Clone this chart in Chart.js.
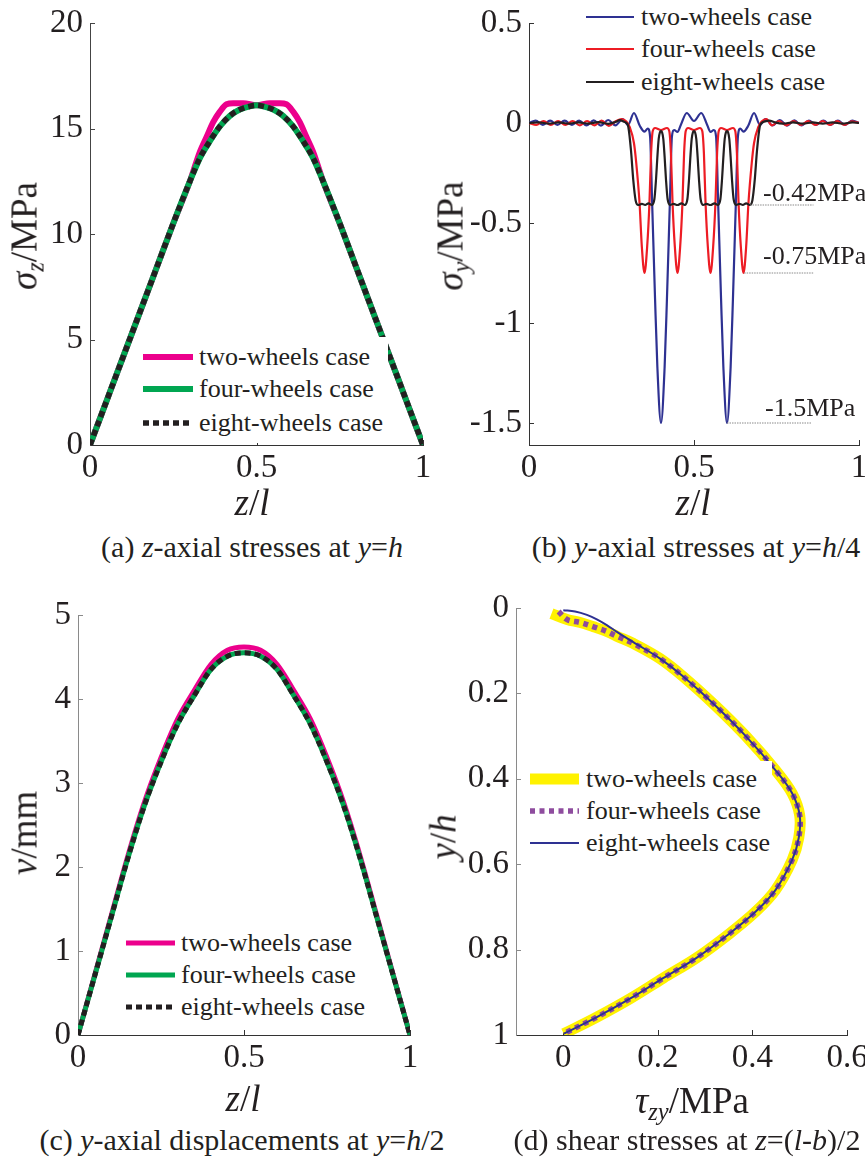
<!DOCTYPE html>
<html>
<head>
<meta charset="utf-8">
<script src="https://cdn.jsdelivr.net/npm/chart.js@4.4.0/dist/chart.umd.min.js"></script>
<style>
  body { margin: 0; background: #fff; }
  #page { position: relative; width: 865px; height: 1159px; overflow: hidden;
          font-family: 'Liberation Serif', 'Times New Roman', serif; color: #231f20; }
  canvas { position: absolute; }
  .t { position: absolute; white-space: nowrap; line-height: 1; transform: translate(-50%, -50%); }
  .rot { transform: translate(-50%, -50%) rotate(-90deg); }
  .cap { font-size: 30px; }
  .ax { font-size: 37px; }
  .sb { font-size: 0.66em; position: relative; top: 0.3em; }
  .note { position: absolute; font-size: 26px; line-height: 1; white-space: nowrap; }
  .legend { position: absolute; background: #fff; }
  .legend span { position: absolute; font-size: 26px; line-height: 1; white-space: nowrap; transform: translateY(-50%); }
</style>
</head>
<body>
<div id="page"></div>
<script>
// (a) z-axial stresses at y=h
const zA = [0, 0.05, 0.1, 0.15, 0.2, 0.25, 0.3, 0.33, 0.36, 0.39, 0.42, 0.45, 0.48, 0.5, 0.52, 0.55, 0.58, 0.61, 0.64, 0.67, 0.7, 0.75, 0.8, 0.85, 0.9, 0.95, 1];
const fourA = [0, 2.1, 4.2, 6.3, 8.4, 10.5, 12.5, 13.6, 14.4, 15.1, 15.6, 15.9, 16.05, 16.1, 16.05, 15.9, 15.6, 15.1, 14.4, 13.6, 12.5, 10.5, 8.4, 6.3, 4.2, 2.1, 0];
const eightA = [0, 2.1, 4.2, 6.3, 8.4, 10.5, 12.5, 13.6, 14.4, 15.1, 15.6, 15.9, 16.05, 16.1, 16.05, 15.9, 15.6, 15.1, 14.4, 13.6, 12.5, 10.5, 8.4, 6.3, 4.2, 2.1, 0];
const zTwoA = [0, 0.05, 0.1, 0.15, 0.2, 0.25, 0.3, 0.33, 0.35, 0.37, 0.39, 0.41, 0.43, 0.46, 0.5, 0.54, 0.57, 0.59, 0.61, 0.63, 0.65, 0.67, 0.7, 0.75, 0.8, 0.85, 0.9, 0.95, 1];
const twoA = [0, 2.1, 4.2, 6.3, 8.4, 10.5, 12.5, 13.9, 14.6, 15.3, 15.8, 16.15, 16.2, 16.2, 16.1, 16.2, 16.2, 16.15, 15.8, 15.3, 14.6, 13.9, 12.5, 10.5, 8.4, 6.3, 4.2, 2.1, 0];
const xTicksA = [0, 0.5, 1];
const yTicksA = [0, 5, 10, 15, 20];

// (b) y-axial stresses at y=h/4
const zTwoB = [0, 0.02, 0.042, 0.064, 0.086, 0.108, 0.13, 0.152, 0.174, 0.196, 0.218, 0.24, 0.262, 0.284, 0.3, 0.318, 0.336, 0.35, 0.36, 0.367, 0.373, 0.382, 0.389, 0.4, 0.411, 0.418, 0.427, 0.433, 0.44, 0.45, 0.46, 0.478, 0.5, 0.522, 0.54, 0.55, 0.56, 0.567, 0.573, 0.582, 0.589, 0.6, 0.611, 0.618, 0.627, 0.633, 0.64, 0.65, 0.664, 0.682, 0.7, 0.716, 0.738, 0.76, 0.782, 0.804, 0.826, 0.848, 0.87, 0.892, 0.914, 0.936, 0.958, 0.98, 1];
const twoB = [0, 0.012, -0.01, 0.012, -0.01, 0.012, -0.01, 0.012, -0.012, 0.013, -0.013, 0.015, -0.012, 0.02, -0.01, 0.05, -0.015, -0.043, -0.028, -0.07, -0.39, -0.88, -1.22, -1.5, -1.22, -0.88, -0.39, -0.07, -0.035, -0.045, -0.01, 0.05, 0.01, 0.05, -0.01, -0.045, -0.035, -0.07, -0.39, -0.88, -1.22, -1.5, -1.22, -0.88, -0.39, -0.07, -0.028, -0.043, -0.015, 0.05, -0.01, 0.02, -0.012, 0.015, -0.013, 0.013, -0.012, 0.012, -0.01, 0.012, -0.01, 0.012, -0.01, 0.012, 0];
const zFourB = [0, 0.022, 0.044, 0.066, 0.088, 0.11, 0.132, 0.154, 0.176, 0.198, 0.22, 0.242, 0.264, 0.28, 0.295, 0.305, 0.318, 0.325, 0.335, 0.342, 0.35, 0.358, 0.365, 0.37, 0.375, 0.382, 0.4, 0.418, 0.425, 0.43, 0.435, 0.442, 0.45, 0.458, 0.465, 0.47, 0.475, 0.482, 0.5, 0.518, 0.525, 0.53, 0.535, 0.542, 0.55, 0.558, 0.565, 0.57, 0.575, 0.582, 0.6, 0.618, 0.625, 0.63, 0.635, 0.642, 0.65, 0.658, 0.665, 0.675, 0.682, 0.695, 0.705, 0.72, 0.736, 0.758, 0.78, 0.802, 0.824, 0.846, 0.868, 0.89, 0.912, 0.934, 0.956, 0.978, 1];
const fourB = [0, -0.01, 0.01, -0.01, 0.01, -0.01, 0.01, -0.012, 0.01, -0.012, 0.012, -0.014, 0.01, 0.02, 0.008, -0.02, -0.1, -0.2, -0.4, -0.62, -0.75, -0.62, -0.4, -0.15, -0.04, -0.025, -0.035, -0.025, -0.04, -0.15, -0.4, -0.62, -0.75, -0.62, -0.4, -0.15, -0.04, -0.025, -0.035, -0.025, -0.04, -0.15, -0.4, -0.62, -0.75, -0.62, -0.4, -0.15, -0.04, -0.025, -0.035, -0.025, -0.04, -0.15, -0.4, -0.62, -0.75, -0.62, -0.4, -0.2, -0.1, -0.02, 0.008, 0.02, -0.012, 0.01, -0.012, 0.01, -0.01, 0.01, -0.01, 0.01, -0.01, 0.01, -0.01, 0.008, 0];
const zEightB = [0, 0.03, 0.06, 0.09, 0.12, 0.15, 0.18, 0.21, 0.24, 0.262, 0.275, 0.288, 0.295, 0.301, 0.309, 0.316, 0.323, 0.331, 0.342, 0.352, 0.362, 0.372, 0.38, 0.385, 0.389, 0.393, 0.397, 0.4, 0.403, 0.407, 0.411, 0.415, 0.42, 0.428, 0.438, 0.45, 0.462, 0.472, 0.48, 0.485, 0.489, 0.493, 0.497, 0.5, 0.503, 0.507, 0.511, 0.515, 0.52, 0.528, 0.538, 0.55, 0.562, 0.572, 0.58, 0.585, 0.589, 0.593, 0.597, 0.6, 0.603, 0.607, 0.611, 0.615, 0.62, 0.628, 0.638, 0.648, 0.658, 0.669, 0.677, 0.684, 0.691, 0.699, 0.705, 0.715, 0.728, 0.745, 0.77, 0.8, 0.83, 0.86, 0.89, 0.92, 0.95, 0.98, 1];
const eightB = [0, 0.003, -0.003, 0.003, -0.003, 0.003, -0.003, 0.004, -0.004, 0.005, 0.014, 0.006, 0, -0.02, -0.136, -0.286, -0.386, -0.41, -0.404, -0.41, -0.402, -0.41, -0.38, -0.28, -0.17, -0.08, -0.045, -0.04, -0.045, -0.08, -0.17, -0.28, -0.38, -0.41, -0.404, -0.41, -0.402, -0.41, -0.38, -0.28, -0.17, -0.08, -0.045, -0.04, -0.045, -0.08, -0.17, -0.28, -0.38, -0.41, -0.404, -0.41, -0.402, -0.41, -0.38, -0.28, -0.17, -0.08, -0.045, -0.04, -0.045, -0.08, -0.17, -0.28, -0.38, -0.41, -0.404, -0.41, -0.402, -0.41, -0.386, -0.286, -0.136, -0.02, 0, 0.008, 0.012, 0.003, -0.003, 0.003, -0.003, 0.003, -0.003, 0.003, -0.003, 0.003, 0];
// peak marker lines: [z start, z end, value]
const marks = [[0.67, 0.862, -0.41], [0.652, 0.862, -0.75], [0.6, 0.857, -1.5]];
const markLabels = ['-0.42MPa', '-0.75MPa', '-1.5MPa'];
const xTicksB = [0, 0.5, 1];
const yTicksB = [0.5, 0, -0.5, -1, -1.5];

// (c) y-axial displacements at y=h/2
const zC = [0, 0.05, 0.1, 0.15, 0.2, 0.25, 0.3, 0.35, 0.4, 0.45, 0.5, 0.55, 0.6, 0.65, 0.7, 0.75, 0.8, 0.85, 0.9, 0.95, 1];
const twoC = [0, 0.71, 1.42, 2.13, 2.77, 3.3, 3.76, 4.1, 4.41, 4.58, 4.62, 4.58, 4.41, 4.1, 3.76, 3.3, 2.77, 2.13, 1.42, 0.71, 0];
const fourC = [0, 0.7, 1.4, 2.1, 2.73, 3.25, 3.7, 4.04, 4.35, 4.51, 4.55, 4.51, 4.35, 4.04, 3.7, 3.25, 2.73, 2.1, 1.4, 0.7, 0];
const eightC = [0, 0.7, 1.4, 2.1, 2.73, 3.25, 3.7, 4.04, 4.35, 4.51, 4.55, 4.51, 4.35, 4.04, 3.7, 3.25, 2.73, 2.1, 1.4, 0.7, 0];
const xTicksC = [0, 0.5, 1];
const yTicksC = [0, 1, 2, 3, 4, 5];

// (d) shear stresses at z=(l-b)/2
const tauTwoD = [-0.025, 0.008, 0.036, 0.064, 0.092, 0.113, 0.148, 0.204, 0.253, 0.323, 0.386, 0.449, 0.484, 0.5, 0.498, 0.484, 0.449, 0.407, 0.351, 0.281, 0.211, 0.141, 0.071, 0.001];
const yhTwoD = [0.013, 0.027, 0.034, 0.044, 0.055, 0.066, 0.083, 0.118, 0.16, 0.23, 0.3, 0.38, 0.434, 0.486, 0.538, 0.59, 0.66, 0.711, 0.763, 0.82, 0.867, 0.915, 0.958, 0.997];
const tauFourD = [-0.01, 0.008, 0.036, 0.064, 0.092, 0.113, 0.148, 0.204, 0.253, 0.323, 0.386, 0.449, 0.484, 0.5, 0.498, 0.484, 0.449, 0.407, 0.351, 0.281, 0.211, 0.141, 0.071, 0.001];
const yhFourD = [0.008, 0.027, 0.034, 0.044, 0.055, 0.066, 0.083, 0.118, 0.16, 0.23, 0.3, 0.38, 0.434, 0.486, 0.538, 0.59, 0.66, 0.711, 0.763, 0.82, 0.867, 0.915, 0.958, 0.997];
const tauEightD = [0, 0.025, 0.05, 0.072, 0.092, 0.115, 0.148, 0.204, 0.253, 0.323, 0.386, 0.449, 0.484, 0.5, 0.498, 0.484, 0.449, 0.407, 0.351, 0.281, 0.211, 0.141, 0.071, 0.001];
const yhEightD = [0.005, 0.008, 0.016, 0.027, 0.04, 0.057, 0.08, 0.118, 0.16, 0.23, 0.3, 0.38, 0.434, 0.486, 0.538, 0.59, 0.66, 0.711, 0.763, 0.82, 0.867, 0.915, 0.958, 0.997];
const xTicksD = [0, 0.2, 0.4, 0.6];
const yTicksD = [0, 0.2, 0.4, 0.6, 0.8, 1];

const names = ['two-wheels case', 'four-wheels case', 'eight-wheels case'];

Chart.defaults.font.family = "'Liberation Serif', 'Times New Roman', serif";
Chart.defaults.color = '#231f20';

const page = document.getElementById('page');

function pts(xs, ys) {
    return xs.map((x, i) => ({ x: x, y: ys[i] }));
}

function line(xs, ys, st, order, smooth) {
    return {
        data: pts(xs, ys),
        borderColor: st.color,
        borderWidth: st.width,
        borderDash: st.dash || [],
        borderCapStyle: 'butt',
        pointRadius: 0,
        fill: false,
        order: order,
        cubicInterpolationMode: smooth === 'bezier' ? 'default' : 'monotone',
        tension: smooth === 'bezier' ? 0.35 : 0
    };
}

// small inward tick marks, the way the original plot has them
const innerTicks = {
    id: 'innerTicks',
    beforeDatasetsDraw(chart) {
        const { ctx, chartArea: a } = chart;
        const xs = chart.scales.x, ys = chart.scales.y;
        ctx.save();
        ctx.lineWidth = 1;
        ctx.strokeStyle = xs.options.border.color;
        xs.ticks.forEach(t => {
            const p = Math.round(xs.getPixelForValue(t.value)) + 0.5;
            if (Math.abs(p - a.left) < 2) return;
            ctx.beginPath(); ctx.moveTo(p, a.bottom); ctx.lineTo(p, a.bottom - 5); ctx.stroke();
        });
        ctx.strokeStyle = ys.options.border.color;
        ys.ticks.forEach(t => {
            const p = Math.round(ys.getPixelForValue(t.value)) + 0.5;
            if (Math.abs(p - a.bottom) < 2) return;
            ctx.beginPath(); ctx.moveTo(a.left, p); ctx.lineTo(a.left + 5, p); ctx.stroke();
        });
        ctx.restore();
    }
};

function makeChart(box, area, cfg) {
    const cv = document.createElement('canvas');
    cv.width = box.w; cv.height = box.h;
    cv.style.left = box.x + 'px'; cv.style.top = box.y + 'px';
    page.appendChild(cv);
    const tickFont = { size: 33 };
    return new Chart(cv.getContext('2d'), {
        type: 'line',
        data: { datasets: cfg.datasets },
        options: {
            responsive: false,
            animation: false,
            layout: { autoPadding: false, padding: { left: 0, top: area.t - box.y, right: box.x + box.w - area.r, bottom: 0 } },
            plugins: { legend: { display: false }, tooltip: { enabled: false } },
            scales: {
                x: {
                    type: 'linear', min: cfg.xMin, max: cfg.xMax,
                    afterBuildTicks: s => { s.ticks = cfg.xTicks.map(v => ({ value: v })); },
                    afterFit: s => { s.height = box.y + box.h - area.b; s.paddingLeft = 0; s.paddingRight = 0; },
                    grid: { display: false, drawTicks: false },
                    border: { color: cfg.xBorder || '#333', width: 1 },
                    ticks: { font: tickFont, padding: 4, maxRotation: 0, autoSkip: false, color: '#231f20', callback: v => String(v) }
                },
                y: {
                    type: 'linear', min: cfg.yMin, max: cfg.yMax, reverse: !!cfg.reverse,
                    afterBuildTicks: s => { s.ticks = cfg.yTicks.map(v => ({ value: v })); },
                    afterFit: s => { s.width = area.l - box.x; s.paddingTop = 0; s.paddingBottom = 0; },
                    grid: { display: false, drawTicks: false },
                    border: { color: cfg.yBorder || '#333', width: 1 },
                    ticks: { font: tickFont, padding: 7, autoSkip: false, color: '#231f20', callback: v => String(v) }
                }
            }
        },
        plugins: [innerTicks]
    });
}

function addText(html, x, y, cls) {
    const d = document.createElement('div');
    d.className = 't ' + cls;
    d.style.left = x + 'px'; d.style.top = y + 'px';
    d.innerHTML = html;
    page.appendChild(d);
}

function addLegend(box, s0, s1, tx, rowsY, styles) {
    const w = box.r - box.l, h = box.b - box.t;
    const d = document.createElement('div');
    d.className = 'legend';
    d.style.left = box.l + 'px'; d.style.top = box.t + 'px';
    d.style.width = w + 'px'; d.style.height = h + 'px';
    let svg = '<svg width="' + w + '" height="' + h + '" style="position:absolute;left:0;top:0">';
    styles.forEach((st, i) => {
        const y = rowsY[i] - box.t;
        svg += '<line x1="' + (s0 - box.l) + '" y1="' + y + '" x2="' + (s1 - box.l) + '" y2="' + y +
            '" stroke="' + st.color + '" stroke-width="' + st.width + '"' +
            (st.dash ? ' stroke-dasharray="' + st.dash.join(' ') + '"' : '') + '/>';
    });
    svg += '</svg>';
    d.innerHTML = svg + names.map((n, i) =>
        '<span style="left:' + (tx - box.l) + 'px;top:' + (rowsY[i] - box.t) + 'px">' + n + '</span>').join('');
    page.appendChild(d);
}

// ---------- (a) ----------
const stA = [
    { color: '#ec008c', width: 6 },
    { color: '#00a651', width: 6 },
    { color: '#231f20', width: 5.5, dash: [6, 4] }
];
makeChart({ x: 0, y: 0, w: 432, h: 495 }, { l: 90, t: 23, r: 423, b: 445 }, {
    xMin: 0, xMax: 1, yMin: 0, yMax: 20, xTicks: xTicksA, yTicks: yTicksA, yBorder: '#444',
    datasets: [
        line(zTwoA, twoA, stA[0], 3),
        line(zA, fourA, stA[1], 2),
        line(zA, eightA, stA[2], 1)
    ]
});
addLegend({ l: 138, t: 337, r: 388, b: 443 }, 143, 193, 199, [357, 389, 423], stA);
addText('<i>σ<span class="sb">z</span></i>/MPa', 24, 236, 'ax rot');
addText('<i>z</i>/<i>l</i>', 252, 502, 'ax');
addText('(a) <i>z</i>-axial stresses at <i>y</i>=<i>h</i>', 252, 547, 'cap');

// ---------- (b) ----------
const stB = [
    { color: '#2e3192', width: 2.2 },
    { color: '#ed1c24', width: 2.2 },
    { color: '#231f20', width: 2.2 }
];
const markDs = marks.map(m => ({
    data: [{ x: m[0], y: m[2] }, { x: m[1], y: m[2] }],
    borderColor: '#8a8a8a', borderWidth: 1, borderDash: [1.5, 1], pointRadius: 0, order: 0
}));
makeChart({ x: 440, y: 0, w: 425, h: 495 }, { l: 529, t: 23, r: 859, b: 445 }, {
    xMin: 0, xMax: 1, yMin: -1.61, yMax: 0.5, xTicks: xTicksB, yTicks: yTicksB,
    datasets: [
        line(zTwoB, twoB, stB[0], 3),
        line(zFourB, fourB, stB[1], 2),
        line(zEightB, eightB, stB[2], 1)
    ].concat(markDs)
});
addLegend({ l: 580, t: 0, r: 830, b: 98 }, 586, 634, 641, [17, 49, 82], stB);
[[763, 180], [763, 243], [765, 395]].forEach((p, i) => {
    const d = document.createElement('div');
    d.className = 'note';
    d.style.left = p[0] + 'px'; d.style.top = p[1] + 'px';
    d.textContent = markLabels[i];
    page.appendChild(d);
});
addText('<i>σ<span class="sb">y</span></i>/MPa', 450, 236, 'ax rot');
addText('<i>z</i>/<i>l</i>', 693, 502, 'ax');
addText('(b) <i>y</i>-axial stresses at <i>y</i>=<i>h</i>/4', 696, 547, 'cap');

// ---------- (c) ----------
const stC = [
    { color: '#ec008c', width: 5 },
    { color: '#00a651', width: 5 },
    { color: '#231f20', width: 5, dash: [6, 4] }
];
makeChart({ x: 0, y: 590, w: 432, h: 495 }, { l: 78, t: 615, r: 410, b: 1035 }, {
    xMin: 0, xMax: 1, yMin: 0, yMax: 5, xTicks: xTicksC, yTicks: yTicksC, yBorder: '#8a8a8a',
    datasets: [
        line(zC, twoC, stC[0], 3),
        line(zC, fourC, stC[1], 2),
        line(zC, eightC, stC[2], 1)
    ]
});
addLegend({ l: 120, t: 926, r: 368, b: 1024 }, 126, 175, 181, [943, 975, 1007], stC);
addText('<i>v</i>/mm', 24, 833, 'ax rot');
addText('<i>z</i>/<i>l</i>', 243, 1098, 'ax');
addText('(c) <i>y</i>-axial displacements at <i>y</i>=<i>h</i>/2', 242, 1140, 'cap');

// ---------- (d) ----------
const stD = [
    { color: '#fff200', width: 11 },
    { color: '#8e4c9e', width: 5.5, dash: [5, 4.5] },
    { color: '#2e3192', width: 2 }
];
makeChart({ x: 440, y: 590, w: 425, h: 495 }, { l: 516, t: 608, r: 847, b: 1035 }, {
    xMin: -0.1, xMax: 0.6, yMin: 0, yMax: 1, reverse: true, xTicks: xTicksD, yTicks: yTicksD, yBorder: '#8a8a8a',
    datasets: [
        line(tauTwoD, yhTwoD, stD[0], 3, 'bezier'),
        line(tauFourD, yhFourD, stD[1], 2, 'bezier'),
        line(tauEightD, yhEightD, stD[2], 1, 'bezier')
    ]
});
addLegend({ l: 524, t: 761, r: 772, b: 861 }, 530, 579, 586, [779, 811, 843], stD);
addText('<i>y</i>/<i>h</i>', 443, 837, 'ax rot');
addText('<i>τ<span class="sb">zy</span></i>/MPa', 692, 1100, 'ax');
addText('(d) shear stresses at <i>z</i>=(<i>l</i>-<i>b</i>)/2', 687, 1140, 'cap');
</script>
</body>
</html>
